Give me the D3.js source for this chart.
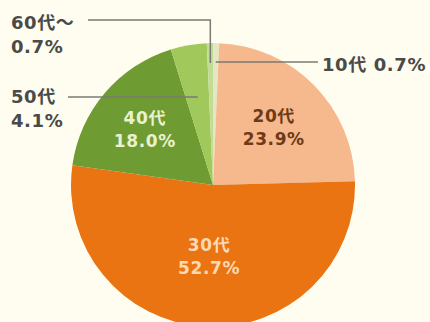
<!DOCTYPE html>
<html>
<head>
<meta charset="utf-8">
<script src="https://cdn.jsdelivr.net/npm/d3@7"></script>
<style>
  html, body { margin: 0; padding: 0; background: #fffdf0; }
  svg { display: block; }
  text { font-family: "DejaVu Sans", "Noto Sans CJK JP", sans-serif; font-weight: bold; letter-spacing: 0.6px; }
</style>
</head>
<body>
<svg id="chart" width="430" height="322"></svg>
<script>
// Age-group shares, clockwise from 12 o'clock
const categories = ["10代", "20代", "30代", "40代", "50代", "60代〜"];
const shares = [0.7, 23.9, 52.7, 18.0, 4.1, 0.7];
const colors = ["#e3e7c4", "#f6b88d", "#ea7412", "#6f9b33", "#a1c85a", "#c3dc95"];
const innerLabelColors = { "20代": "#6e3a17", "30代": "#fbd9b5", "40代": "#e9f1cf" };
const innerLabelRadius = { "20代": 0.6, "30代": 0.49, "40代": 0.63 };

const width = 430, height = 322;
const cx = 213, cy = 185, R = 142;

const svg = d3.select("#chart");
const g = svg.append("g").attr("transform", `translate(${cx},${cy})`);

const data = categories.map((c, i) => ({ name: c, value: shares[i], color: colors[i] }));
const pie = d3.pie().sort(null).value(d => d.value);
const arcs = pie(data);
const arc = d3.arc().innerRadius(0).outerRadius(R);

g.selectAll("path.slice")
  .data(arcs)
  .join("path")
  .attr("class", "slice")
  .attr("d", arc)
  .attr("fill", d => d.data.color);

// Labels inside the large slices
arcs.filter(d => innerLabelColors[d.data.name]).forEach(d => {
  const r = R * innerLabelRadius[d.data.name];
  const [x, y] = d3.arc().innerRadius(r).outerRadius(r).centroid(d);
  const t = g.append("text")
    .attr("text-anchor", "middle")
    .attr("font-size", 17)
    .attr("fill", innerLabelColors[d.data.name]);
  t.append("tspan").attr("x", x).attr("y", y - 3).text(d.data.name);
  t.append("tspan").attr("x", x).attr("y", y + 20).text(d.data.value.toFixed(1) + "%");
});

// Point on a slice's mid-angle at a given vertical position
function midPointAtY(d, yAbs) {
  const a = (d.startAngle + d.endAngle) / 2;
  const r = (cy - yAbs) / Math.cos(a);
  return [cx + r * Math.sin(a), yAbs];
}

const lineColor = "#7a7a74";
const textColor = "#4a4a48";
const outer = svg.append("g");

// 10代: leader to the right
{
  const d = arcs[0];
  const [x0, y0] = midPointAtY(d, 62);
  outer.append("path")
    .attr("d", `M${x0},${y0}H318`)
    .attr("stroke", lineColor).attr("stroke-width", 1.5).attr("fill", "none");
  outer.append("text")
    .attr("x", 322).attr("y", 71)
    .attr("font-size", 18).attr("fill", textColor)
    .text(`${d.data.name} ${d.data.value.toFixed(1)}%`);
}

// 50代: leader to the left
{
  const d = arcs[4];
  const [x0, y0] = midPointAtY(d, 97);
  outer.append("path")
    .attr("d", `M${x0},${y0}H68`)
    .attr("stroke", lineColor).attr("stroke-width", 1.5).attr("fill", "none");
  const t = outer.append("text").attr("font-size", 18).attr("fill", textColor);
  t.append("tspan").attr("x", 11).attr("y", 103).text(d.data.name);
  t.append("tspan").attr("x", 11).attr("y", 127).text(d.data.value.toFixed(1) + "%");
}

// 60代〜: elbow leader up and to the left
{
  const d = arcs[5];
  const [x0, y0] = midPointAtY(d, 63);
  outer.append("path")
    .attr("d", `M${x0},${y0}V20H88`)
    .attr("stroke", lineColor).attr("stroke-width", 1.5).attr("fill", "none");
  const t = outer.append("text").attr("font-size", 18).attr("fill", textColor);
  t.append("tspan").attr("x", 11).attr("y", 29).text(d.data.name);
  t.append("tspan").attr("x", 11).attr("y", 53).text(d.data.value.toFixed(1) + "%");
}
</script>
</body>
</html>
